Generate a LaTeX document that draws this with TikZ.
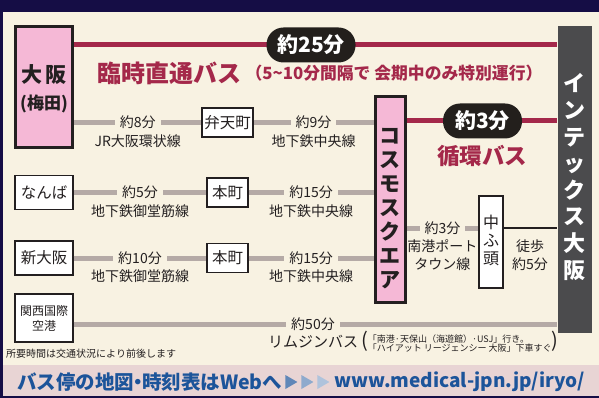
\documentclass[tikz,border=0pt]{standalone}
\usepackage{fontspec}
\setmainfont{Noto Sans CJK JP}
\usepackage{tikz}
\usetikzlibrary{positioning,calc}

\definecolor{navy}{RGB}{21,13,69}
\definecolor{cream}{RGB}{248,242,226}
\definecolor{hubpink}{RGB}{245,184,214}
\definecolor{crimson}{RGB}{164,40,74}
\definecolor{railgray}{RGB}{181,170,166}
\definecolor{intexgray}{RGB}{75,75,77}
\definecolor{pillblack}{RGB}{35,31,28}
\definecolor{bandpink}{RGB}{232,212,212}
\definecolor{webblue}{RGB}{28,84,154}
\definecolor{ink}{RGB}{35,31,32}

\tikzset{
	station/.style={draw=ink,line width=1.2pt,fill=white,inner sep=0pt,text=ink,font=\fontsize{15.5}{16}\selectfont},
	hub/.style={draw=ink,line width=3pt,fill=hubpink,inner sep=0pt},
	rail/.style={line width=5pt,draw=railgray},
	busline/.style={line width=5pt,draw=crimson},
	walk/.style={line width=2pt,draw=ink},
	time/.style={fill=cream,inner xsep=5pt,inner ysep=1pt,text=ink,font=\fontsize{14}{15}\selectfont},
	lname/.style={inner sep=0pt,text=ink,align=center,font=\fontsize{14}{17.5}\selectfont},
	pill/.style={fill=pillblack,rounded corners=17pt,minimum height=35pt,inner sep=0pt,text=white,font=\bfseries\fontsize{21}{22}\selectfont},
	vtext/.style={align=center,inner sep=0pt},
}

\begin{document}
\begin{tikzpicture}[x=1pt,y=-1pt]
\useasboundingbox (0,0) rectangle (599,398);

%Fond
\fill[navy] (0,0) rectangle (599,398);
\fill[cream] (3,12) rectangle (599,365);
\fill[bandpink] (3,365) rectangle (599,396);

%Terminus et gares
\node[hub,minimum width=57pt,minimum height=121pt] (umeda) at (44,87) {};
\node[fill=intexgray,minimum width=34pt,minimum height=307pt,inner sep=0pt] (intex) at (574.5,179.5) {};
\node[hub,minimum width=30pt,minimum height=205pt] (cosmo) at (390,199.5) {};
\node[station,minimum width=51pt,minimum height=29pt] (benten) at (227.5,122.5) {弁天町};
\node[station,minimum width=58pt,minimum height=34pt] (namba) at (44,192.5) {なんば};
\node[station,minimum width=41pt,minimum height=29pt] (honmachiA) at (227.5,192.5) {本町};
\node[station,minimum width=58pt,minimum height=34pt] (shinosaka) at (44,258) {新大阪};
\node[station,minimum width=41pt,minimum height=29pt] (honmachiB) at (227.5,258) {本町};
\node[station,minimum width=58pt,minimum height=48pt,align=center,font=\fontsize{12}{15}\selectfont] (kansai) at (44,318) {関西国際\\空港};
\node[station,minimum width=24pt,minimum height=92pt] (nakafuto) at (491,242) {};

%Textes verticaux
\node[vtext,text=ink,font=\bfseries\fontsize{21}{24}\selectfont] at (44,75) {大\,阪};
\node[vtext,text=ink,font=\bfseries\fontsize{17}{18}\selectfont] at (44,104) {(梅田)};
\node[vtext,text=white,font=\bfseries\fontsize{22}{26.6}\selectfont] (intexlbl) at (574.5,177) {イ\\ン\\テ\\ッ\\ク\\ス\\大\\阪};
\node[vtext,text=ink,font=\bfseries\fontsize{21}{24}\selectfont] (cosmolbl) at (390,209) {コ\\ス\\モ\\ス\\ク\\エ\\ア};
\node[vtext,text=ink,font=\fontsize{16}{18}\selectfont] (nakafutolbl) at (491,240) {中\\ふ\\頭};

%Bus direct
\coordinate (r25) at (311,45);
\draw[busline] (umeda.east |- r25) -- (intex.west |- r25);
\node[pill,minimum width=89pt] (pill25) at (r25) {約25分};
\node[text=crimson,font=\bfseries\fontsize{24}{26}\selectfont,anchor=west,inner sep=0pt] (rinji) at (97,73) {臨時直通バス};
\node[text=crimson,font=\bfseries\fontsize{16.8}{19}\selectfont,anchor=west,inner sep=0pt] (kaiki) at ([xshift=4pt]rinji.east) {（5\textasciitilde10分間隔で 会期中のみ特別運行）};

%Bus circulaire
\coordinate (r3) at (482.5,121);
\draw[busline] (cosmo.east |- r3) -- (intex.west |- r3);
\node[pill,minimum width=79pt] (pill3) at (r3) {約3分};
\node[text=crimson,font=\bfseries\fontsize{22.5}{24}\selectfont,inner sep=0pt] (junkan) at (482,156) {循環バス};

%Lignes de train
\draw[rail] (umeda.east |- benten.west) -- (benten.west);
\draw[rail] (benten.east) -- (cosmo.west |- benten.east);
\draw[rail] (namba.east) -- (honmachiA.west);
\draw[rail] (honmachiA.east) -- (cosmo.west |- honmachiA.east);
\draw[rail] (shinosaka.east) -- (honmachiB.west);
\draw[rail] (honmachiB.east) -- (cosmo.west |- honmachiB.east);
\coordinate (rn) at (0,228);
\draw[rail] (cosmo.east |- rn) -- (nakafuto.west |- rn);
\draw[walk] (nakafuto.east |- rn) -- (intex.west |- rn);
\coordinate (rk) at (0,324);
\draw[rail] (kansai.east |- rk) -- (intex.west |- rk);

%Temps et noms des lignes
\node[time] (t8) at ($(umeda.east |- benten.west)!0.5!(benten.west)$) {約8分};
\node[lname,below=4pt of t8] {JR大阪環状線};
\node[time] (t9) at ($(benten.east)!0.5!(cosmo.west |- benten.east)$) {約9分};
\node[lname,below=4pt of t9] {地下鉄中央線};
\node[time] (t5) at ($(namba.east)!0.5!(honmachiA.west)$) {約5分};
\node[lname,below=4pt of t5] {地下鉄御堂筋線};
\node[time] (t15a) at ($(honmachiA.east)!0.5!(cosmo.west |- honmachiA.east)$) {約15分};
\node[lname,below=4pt of t15a] {地下鉄中央線};
\node[time] (t10) at ($(shinosaka.east)!0.5!(honmachiB.west)$) {約10分};
\node[lname,below=4pt of t10] {地下鉄御堂筋線};
\node[time] (t15b) at ($(honmachiB.east)!0.5!(cosmo.west |- honmachiB.east)$) {約15分};
\node[lname,below=4pt of t15b] {地下鉄中央線};
\node[time] (t3) at ($(cosmo.east |- rn)!0.5!(nakafuto.west |- rn)$) {約3分};
\node[lname,below=4pt of t3] {南港ポート\\タウン線};
\node[lname] (toho) at (530,255) {徒歩\\約5分};
\node[time] (t50) at (313,324) {約50分};
\node[lname,font=\fontsize{15}{16}\selectfont,below=3pt of t50] (limo) {リムジンバス};
\node[text=ink,anchor=west,inner sep=0pt,font=\fontsize{9}{11}\selectfont] (note) at (361,343)
	{{\fontsize{20}{20}\selectfont(}\begin{tabular}{@{}l@{}}「南港·天保山（海遊館）·USJ」行き。\\[-1.5pt]「ハイアット リージェンシー 大阪」下車すぐ\end{tabular}{\fontsize{20}{20}\selectfont)}};
\node[text=ink,anchor=west,inner sep=0pt,font=\fontsize{10}{11}\selectfont] (shoyo) at (6,354) {所要時間は交通状況により前後します};

%Bandeau Web
\node[text=webblue,anchor=west,inner sep=0pt,font=\bfseries\fontsize{19.5}{20}\selectfont] (webtxt) at (17,382) {バス停の地図\hspace{-0.3em}・\hspace{-0.3em}時刻表はWebへ};
\foreach \i/\c in {0/webblue!70,1/webblue!50,2/webblue!35}
	\fill[\c] ($(webtxt.east)+(3+16*\i,-7)$) -- ++(12,7) -- ++(-12,7) -- cycle;
\node[text=webblue,anchor=east,inner sep=0pt,font=\bfseries\fontsize{19}{22}\selectfont] (url) at (585,382) {www.medical-jpn.jp/iryo/};

\end{tikzpicture}
\end{document}
